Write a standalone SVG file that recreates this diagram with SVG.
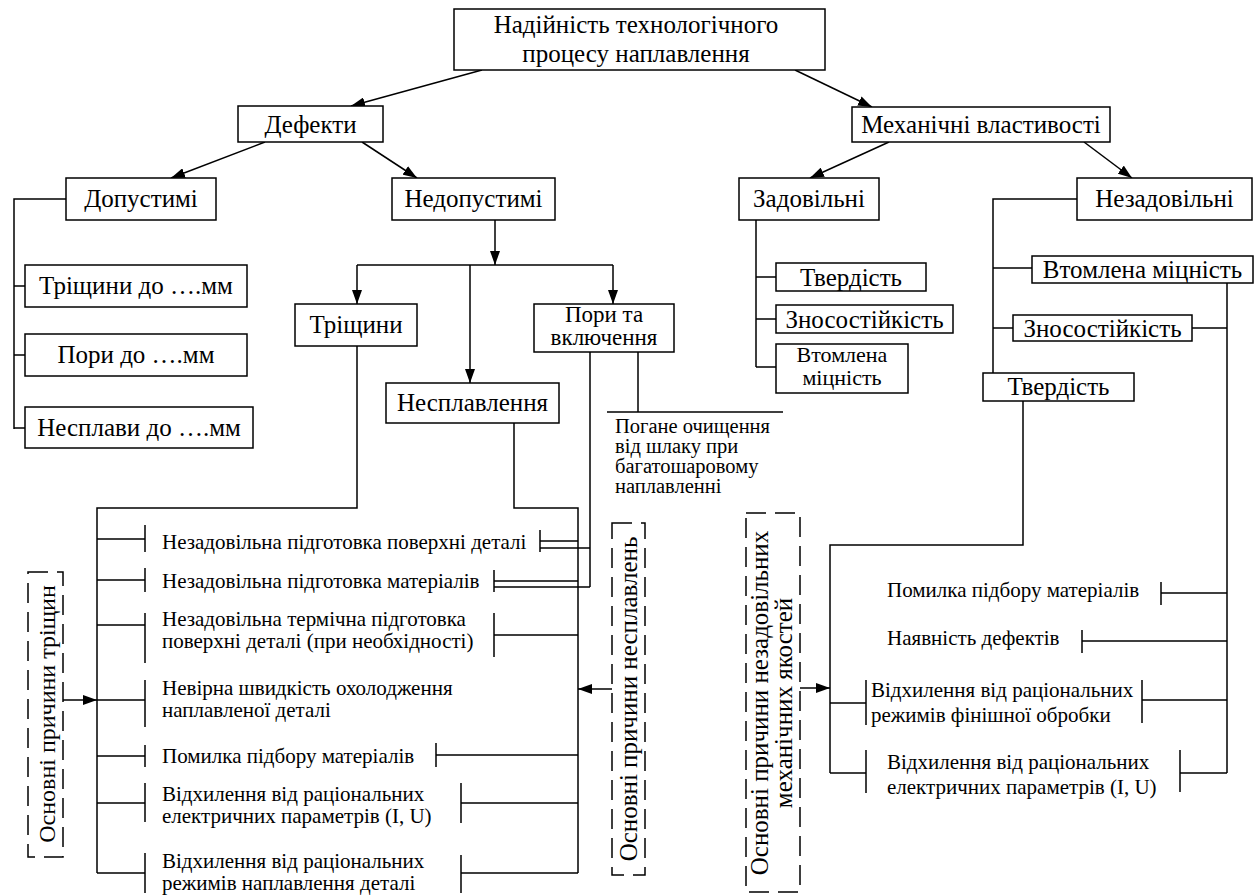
<svg xmlns="http://www.w3.org/2000/svg" width="1254" height="895" viewBox="0 0 1254 895" font-family="'Liberation Serif', 'Times New Roman', serif">
<style>
.box{fill:#fff;stroke:#000;stroke-width:1.5}
.ln{fill:none;stroke:#000;stroke-width:1.5}
.dash{fill:none;stroke:#000;stroke-width:1.5;stroke-dasharray:20 9}
text{font-family:'Liberation Serif','Times New Roman',serif;fill:#000}
.h{font-size:25px;text-anchor:middle}
.s{font-size:23px;text-anchor:middle}
.v{font-size:22px;text-anchor:middle}
.b{font-size:21px}
.p{font-size:20.5px}
.r{font-size:24px;text-anchor:middle}
</style>
<defs>
<marker id="ar" markerUnits="userSpaceOnUse" markerWidth="14" markerHeight="10" refX="14" refY="5" orient="auto">
<path d="M0,0 L14,5 L0,10 z" fill="#000"/>
</marker>
</defs>
<rect width="1254" height="895" fill="#fff"/>

<g id="connectors">
<path class="ln" d="M482,70 L351,106" marker-end="url(#ar)"/>
<path class="ln" d="M795,70 L872,107" marker-end="url(#ar)"/>
<path class="ln" d="M265,142 L171,178" marker-end="url(#ar)"/>
<path class="ln" d="M362,142 L417,178" marker-end="url(#ar)"/>
<path class="ln" d="M889,142 L810,178" marker-end="url(#ar)"/>
<path class="ln" d="M1084,142 L1132,178" marker-end="url(#ar)"/>
<path class="ln" d="M66,199 H14 V429 M14,286 H25 M14,355 H25 M14,428 H25"/>
<path class="ln" d="M495,220 V265" marker-end="url(#ar)"/>
<path class="ln" d="M357,265 H613"/>
<path class="ln" d="M357,265 V304" marker-end="url(#ar)"/>
<path class="ln" d="M470,265 V383" marker-end="url(#ar)"/>
<path class="ln" d="M613,265 V304" marker-end="url(#ar)"/>
<path class="ln" d="M357,346 V508 H97 V873"/>
<path class="ln" d="M514,423 V508 H578 V873"/>
<path class="ln" d="M590,352 V587 M638,352 V412 M607,412 H783"/>
<path class="ln" d="M97,539 H145 M145,525 V552 M97,580 H145 M145,568 V592 M97,625 H145 M145,613 V663 M97,700 H145 M145,680 V727 M97,756 H145 M145,745 V767 M97,803 H145 M145,783 V822 M97,873 H145 M145,853 V893"/>
<path class="ln" d="M63,700 H97" marker-end="url(#ar)"/>
<path class="ln" d="M540,530 V552 M540,541 H578 M540,548 H590 M494,570 V592 M494,581 H578 M494,587 H590 M494,613 V657 M494,635 H578 M436,743 V767 M436,755 H578 M461,783 V823 M461,803 H578 M461,855 V893 M461,873 H578"/>
<path class="ln" d="M612,689 H578" marker-end="url(#ar)"/>
<path class="ln" d="M756,220 V367 M756,277 H776 M756,319 H776 M756,367 H776"/>
<path class="ln" d="M1077,199 H993 V373 M993,268 H1032 M993,328 H1013 M1192,328 H1227 M1227,283 V773"/>
<path class="ln" d="M1023,401 V545 H830 V773 M830,703 H866 M866,680 V725 M830,773 H866 M866,750 V793"/>
<path class="ln" d="M1161,582 V605 M1161,593 H1227 M1082,630 V653 M1082,641 H1227 M1142,680 V723 M1142,700 H1227 M1180,750 V792 M1180,773 H1227"/>
<path class="ln" d="M800,688 H830" marker-end="url(#ar)"/>
</g>

<g id="n-root"><rect class="box" x="454" y="9" width="371" height="61"/>
<text class="h" x="636" y="33">Надійність технологічного</text>
<text class="h" x="636" y="62">процесу наплавлення</text></g>
<g id="n-defekty"><rect class="box" x="238" y="106" width="145" height="36"/><text class="h" x="310.5" y="133">Дефекти</text></g>
<g id="n-mech"><rect class="box" x="852" y="107" width="258" height="35"/><text class="h" x="981" y="133">Механічні властивості</text></g>
<g id="n-dopust"><rect class="box" x="66" y="178" width="150" height="42"/><text class="h" x="141" y="207">Допустимі</text></g>
<g id="n-nedopust"><rect class="box" x="392" y="178" width="163" height="42"/><text class="h" x="473.5" y="207">Недопустимі</text></g>
<g id="n-zadov"><rect class="box" x="739" y="178" width="140" height="42"/><text class="h" x="809" y="207">Задовільні</text></g>
<g id="n-nezadov"><rect class="box" x="1077" y="178" width="175" height="42"/><text class="h" x="1164.5" y="207">Незадовільні</text></g>

<g id="n-trd"><rect class="box" x="25" y="265" width="222" height="42"/><text class="h" x="136" y="294">Тріщини до ….мм</text></g>
<g id="n-prd"><rect class="box" x="25" y="334" width="222" height="42"/><text class="h" x="136" y="363">Пори до ….мм</text></g>
<g id="n-nsd"><rect class="box" x="25" y="407" width="228" height="41"/><text class="h" x="139" y="436">Несплави до ….мм</text></g>

<g id="n-trishchyny"><rect class="box" x="295" y="304" width="122" height="42"/><text class="h" x="356" y="333">Тріщини</text></g>
<g id="n-nesplav"><rect class="box" x="386" y="383" width="173" height="40"/><text class="h" x="472.5" y="411">Несплавлення</text></g>
<g id="n-pory"><rect class="box" x="534" y="304" width="140" height="48"/><text class="s" x="604" y="322">Пори та</text><text class="s" x="604" y="345">включення</text></g>
<g id="n-pogane"><text class="p" x="615" y="433">Погане очищення</text><text class="p" x="615" y="453">від шлаку при</text><text class="p" x="615" y="473">багатошаровому</text><text class="p" x="615" y="493">наплавленні</text></g>

<g id="n-z-tverd"><rect class="box" x="776" y="263" width="150" height="28"/><text class="h" x="851" y="286">Твердість</text></g>
<g id="n-z-znos"><rect class="box" x="776" y="305" width="177" height="28"/><text class="h" x="864.5" y="328">Зносостійкість</text></g>
<g id="n-z-vtom"><rect class="box" x="776" y="344" width="132" height="49"/><text class="v" x="842" y="362">Втомлена</text><text class="v" x="842" y="385">міцність</text></g>

<g id="n-n-vtom"><rect class="box" x="1032" y="256" width="221" height="27"/><text class="h" x="1142.5" y="278">Втомлена міцність</text></g>
<g id="n-n-znos"><rect class="box" x="1013" y="315" width="179" height="26"/><text class="h" x="1102.5" y="337">Зносостійкість</text></g>
<g id="n-n-tverd"><rect class="box" x="983" y="373" width="151" height="28"/><text class="h" x="1058.5" y="395">Твердість</text></g>

<g id="n-causes-cracks"><rect class="dash" x="28" y="572" width="35" height="285"/>
<text class="r" transform="translate(55,714) rotate(-90)">Основні причини тріщин</text></g>
<g id="n-causes-nesplav"><rect class="dash" x="612" y="523" width="33" height="352"/>
<text class="h" transform="translate(637,699) rotate(-90)">Основні причини несплавлень</text></g>
<g id="n-causes-mech"><rect class="dash" x="746" y="513" width="54" height="379"/>
<text class="h" transform="translate(768,703) rotate(-90)">Основні причини незадовільних</text>
<text class="h" transform="translate(792,703) rotate(-90)">механічних якостей</text></g>

<g id="n-list-left">
<text class="b" x="162" y="549">Незадовільна підготовка поверхні деталі</text>
<text class="b" x="162" y="588">Незадовільна підготовка матеріалів</text>
<text class="b" x="162" y="626">Незадовільна термічна підготовка</text>
<text class="b" x="162" y="648">поверхні деталі (при необхідності)</text>
<text class="b" x="162" y="695">Невірна швидкість охолодження</text>
<text class="b" x="162" y="717">наплавленої деталі</text>
<text class="b" x="162" y="763">Помилка підбору матеріалів</text>
<text class="b" x="162" y="801">Відхилення від раціональних</text>
<text class="b" x="162" y="823">електричних параметрів (I, U)</text>
<text class="b" x="162" y="868">Відхилення від раціональних</text>
<text class="b" x="162" y="890">режимів наплавлення деталі</text>
</g>
<g id="n-list-right">
<text class="b" x="887" y="597">Помилка підбору матеріалів</text>
<text class="b" x="887" y="645">Наявність дефектів</text>
<text class="b" x="871" y="697">Відхилення від раціональних</text>
<text class="b" x="871" y="722">режимів фінішної обробки</text>
<text class="b" x="887" y="769">Відхилення від раціональних</text>
<text class="b" x="887" y="794">електричних параметрів (I, U)</text>
</g>
</svg>
